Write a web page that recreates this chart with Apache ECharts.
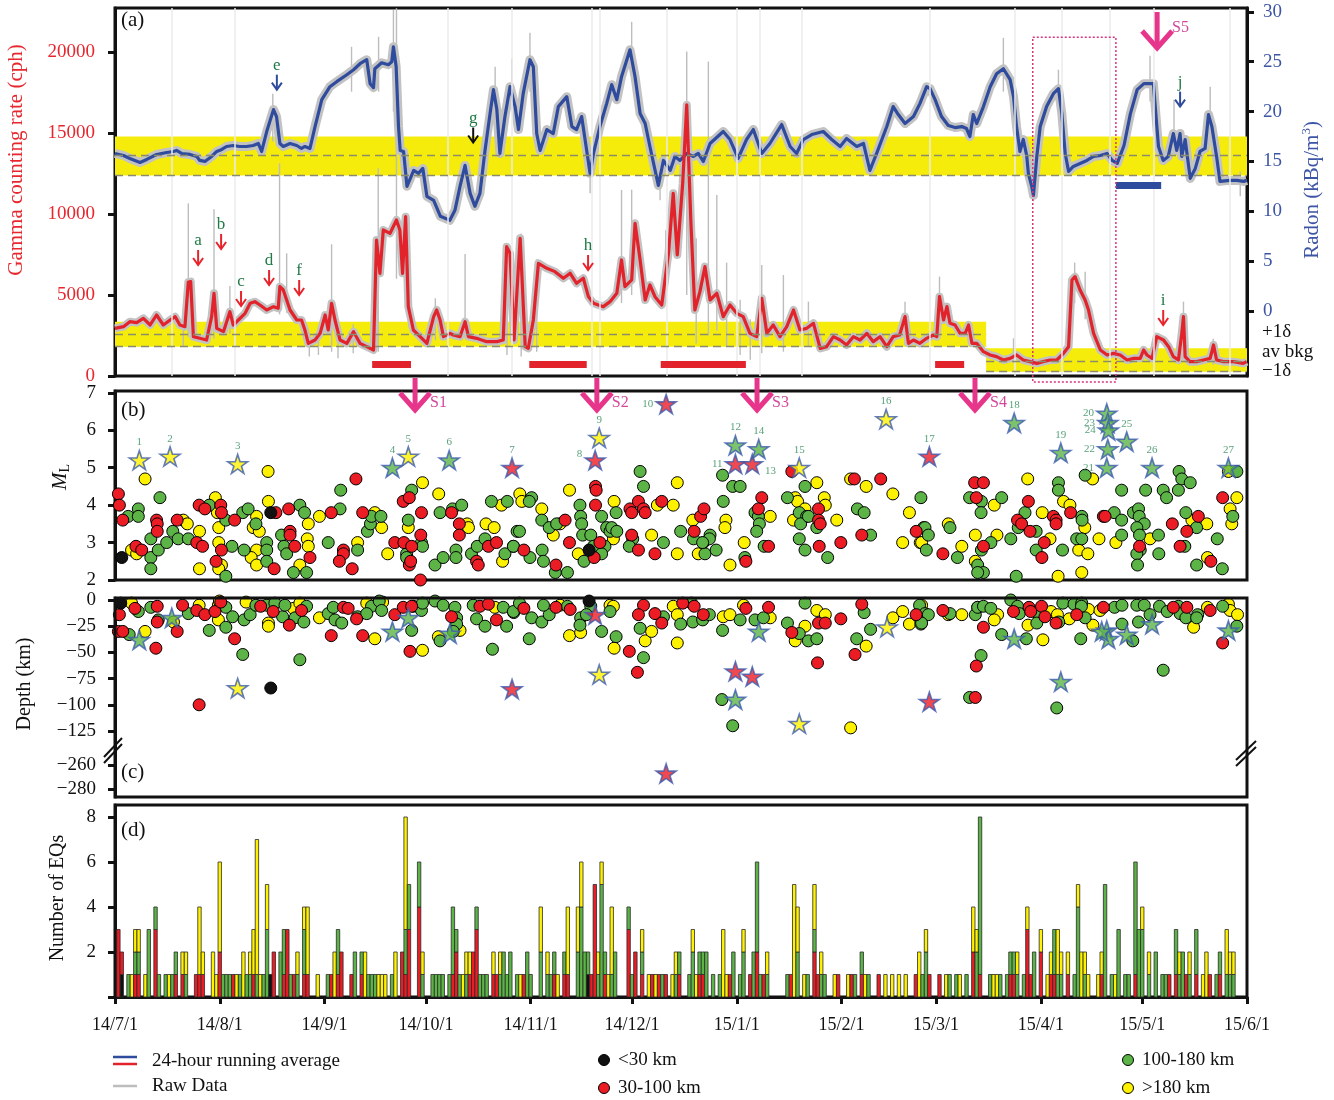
<!DOCTYPE html>
<html><head><meta charset="utf-8">
<script src="https://cdn.jsdelivr.net/npm/echarts@6/dist/echarts.min.js"></script>
<style>html,body{margin:0;padding:0;background:#fff}#c{width:1334px;height:1100px}</style>
</head><body><div id="c"></div>
<script>
// ---------------- DATA ----------------
const tickDays=[0,31,62,92,123,153,184,215,243,274,304,335];
const tickLabels=['14/7/1','14/8/1','14/9/1','14/10/1','14/11/1','14/12/1','15/1/1','15/2/1','15/3/1','15/4/1','15/5/1','15/6/1'];

const radonAvg=[[0,15.8],[2.5,15.6],[4.4,15.3],[7.4,14.9],[9.4,15.2],[12.3,15.7],[15.3,15.9],[17.3,16.0],[18.2,16.1],[19.7,15.8],[22.2,15.7],[24.2,15.5],[25.1,15.1],[26.6,15.0],[28.6,15.5],[30.1,16.0],[31.6,16.2],[33.0,16.5],[35.0,16.6],[36.9,16.5],[38.9,16.5],[40.9,16.6],[42.4,16.8],[43.4,16.0],[44.9,18.0],[46.9,20.2],[47.8,19.5],[48.8,16.8],[49.8,16.5],[51.8,16.8],[53.8,16.6],[55.2,16.3],[56.2,16.5],[57.7,16.3],[59.2,18.5],[61.2,21.2],[63.6,22.5],[65.6,23.0],[68.6,23.7],[70.6,24.2],[72.5,24.8],[74.5,25.2],[75.5,22.8],[76.5,22.4],[76.9,24.3],[78.9,24.9],[80.9,24.7],[81.9,25.0],[82.4,26.5],[83.2,24.5],[83.9,18.5],[84.4,16.1],[85.4,16.0],[86.4,12.5],[88.4,14.1],[89.8,13.8],[91.1,14.3],[92.3,11.5],[94.3,11.1],[96.3,9.5],
[97.7,9.3],[99.1,9.1],[100.6,10.1],[102.1,12.5],[103.6,14.6],[105.1,11.8],[106.5,10.5],[108.0,11.8],[109.5,16.1],[111.0,19.8],[112.0,22.2],[113.0,20.2],[113.9,15.8],[115.4,19.5],[116.9,22.5],[118.4,20.5],[119.4,18.2],[120.8,21.8],[122.8,25.2],[123.8,24.5],[124.8,17.8],[125.8,16.1],[127.8,18.2],[129.7,17.8],[131.2,20.5],[133.7,21.5],[135.2,18.5],[136.6,18.2],[138.1,19.5],[140.6,13.8],[141.6,15.8],[143.5,18.5],[145.5,20.8],[147.0,22.7],[148.5,21.2],[149.9,23.5],[152.4,26.2],[153.9,23.5],[155.4,19.8],[156.9,18.8],[158.3,16.5],[160.8,12.6],[162.3,15.1],[164.3,14.1],[165.7,15.5],[167.2,15.1],[169.2,15.8],[171.2,15.5],[172.6,15.8],[174.1,15.0],[176.1,16.8],[180.0,18.0],[182.0,17.2],[184.4,15.3],[186.9,17.2],[188.9,18.2],[191.4,15.8],[193.8,16.8],[197.3,18.7],[199.8,16.5],[201.7,15.8],[203.7,17.2],[206.2,17.7],[209.6,18.0],[212.1,17.2],[214.6,16.5],[216.5,17.3],[219.5,16.5],[221.5,16.8],[223.4,14.1],[225.4,15.8],[228.4,18.5],
[230.3,20.5],[231.8,19.7],[233.8,18.8],[236.3,19.5],[238.2,20.8],[240.2,22.5],[241.2,22.3],[242.7,21.2],[244.6,19.5],[246.6,18.6],[248.6,18.4],[250.6,18.5],[252.0,18.3],[253.0,17.5],[254.0,19.7],[255.0,18.8],[257.0,20.5],[259.0,22.5],[260.9,23.8],[262.9,24.3],[264.9,23.2],[265.9,21.5],[266.8,18.5],[267.8,16.0],[268.8,17.2],[269.8,15.6],[270.3,13.8],[271.3,12.5],[271.8,11.6],[272.8,15.5],[273.8,18.5],[275.7,20.5],[277.7,21.8],[279.2,22.3],[280.2,19.8],[281.2,15.8],[282.2,14.0],[283.6,14.5],[285.6,14.8],[287.6,15.1],[289.6,15.5],[291.6,15.6],[293.6,15.8],[295.1,15.1],[296.6,14.8],[298.6,16.6],[300.5,19.8],[302.5,22.2],[304.5,22.8],[307.3,22.8],[308.8,16.5],[310.2,15.1],[311.7,15.5],[313.2,17.8],[314.2,16.1],[315.2,17.8],[315.7,15.5],[316.7,17.2],[318.2,13.3],[319.7,14.3],[321.1,16.0],[322.6,16.3],[323.6,19.7],[324.6,18.5],[326.0,15.5],[327.0,13.0],[330.0,13.1],[332.0,13.1],[334.0,13.0],[334.9,13.1]];

const gammaAvg=[[0,2943],[2.5,3046],[4.4,3354],[6.4,3293],[8.4,3560],[10.4,3149],[12.3,3766],[14.3,3149],[16.3,3457],[17.8,3663],[19.2,3149],[20.7,3046],[21.7,5804],[22.4,5824],[23.2,2428],[25.1,2326],[27.1,2222],[28.6,3663],[29.3,5104],[30.1,2943],[32.1,2737],[34.0,3972],[35.0,3149],[36.5,3457],[38.5,3869],[40.0,4487],[41.4,4589],[42.9,4384],[44.9,4075],[46.9,4281],[48.3,4178],[48.8,5515],[49.8,5310],[51.8,4075],[53.8,3457],[55.2,3457],[56.2,2840],[57.2,2017],[59.2,2222],[60.7,2634],[62.2,3766],[63.1,2840],[64.1,4487],[65.1,3457],[66.6,2222],[68.6,2017],[70.6,2737],[72.5,2017],[74.5,1811],[76.5,1605],[77.4,8396],[78.4,6338],[79.4,9014],[81.4,8808],[83.3,9631],[84.3,9014],[85.1,6338],[86.0,9837],[86.8,4281],[88.3,2840],[90.3,2428],[92.3,2017],[94.3,3663],[95.2,4075],[96.2,3457],[97.2,2428],[99.2,2634],
[100.1,2531],[102.1,2428],[103.6,3354],[104.6,2428],[107.0,2326],[110.0,2120],[113.0,2120],[114.9,2222],[115.9,7985],[116.9,7573],[118.1,2222],[119.9,8500],[121.4,1811],[122.3,1708],[123.8,3457],[125.3,6956],[127.8,6647],[130.2,6442],[132.7,6030],[134.7,6339],[136.6,5721],[138.6,6030],[140.1,4898],[141.6,4487],[144.5,4281],[146.5,4589],[148.5,5104],[149.9,7162],[150.9,5515],[152.9,5927],[153.9,9426],[155.4,7162],[156.9,4692],[158.3,5618],[159.8,4898],[161.8,4384],[163.8,7573],[165.2,11278],[166.4,7470],[168.0,11895],[169.2,16732],[170.4,9631],[171.6,4075],[173.1,5207],[174.6,6750],[176.1,4692],[178.1,5104],[180.0,3663],[182.0,4384],[184.0,3869],[185.9,3663],[187.9,2634],[189.9,2428],[191.4,4795],[192.9,2634],[194.8,3149],[196.8,2428],[198.8,3046],[200.8,4075],[202.7,2840],[204.7,2943],[206.7,3252],[208.7,1708],[210.6,1811],[212.6,2428],[214.6,2222],[216.5,1914],[218.5,2428],[220.5,2222],[222.5,2634],[224.4,2120],[226.4,2428],[228.4,1811],
[230.3,2428],[232.2,2531],[233.8,3663],[234.8,2017],[236.3,2222],[238.2,2017],[240.2,2326],[242.2,2531],[243.2,2428],[244.0,4898],[245.2,3457],[246.2,4281],[247.1,3252],[248.6,3149],[250.1,2634],[251.6,2634],[252.6,3149],[253.6,2017],[255.0,2017],[257.0,1502],[259.0,1297],[260.9,1194],[262.9,988],[264.9,1091],[266.8,1297],[268.8,988],[270.8,885],[272.8,782],[274.7,885],[276.7,988],[278.7,988],[280.7,1399],[282.2,1811],[283.2,5927],[284.1,6133],[285.6,5310],[287.1,4692],[288.1,4075],[289.6,2634],[291.6,1605],[293.6,1297],[295.5,1399],[297.5,1297],[299.5,988],[301.5,1091],[303.4,1091],[304.4,1605],[305.4,1297],[306.9,1091],[308.3,2428],[310.3,2222],[311.8,1811],[313.2,1194],[314.7,988],[315.7,2634],[316.2,3663],[316.7,1194],[318.1,885],[320.1,885],[322.1,988],[324.1,1091],[325.1,1914],[326.0,988],[328.0,885],[331.0,885],[333.9,782],[334.9,885]];

// raw-data spikes [day, low, high]
const gammaRawSpikes=[[20.2,1800,3200],[21.7,2400,10660],[29.3,2300,10290],[34.0,2600,5557],[48.7,3800,13130],[50.8,3900,7573],[57.5,1200,2600],[60.2,1300,3000],[64.1,1500,8129],[66.0,1100,2500],[70.5,1400,3200],[77.9,1500,12821],[83.3,6000,22700],[87.0,3000,9800],[94.8,2200,4795],[103.6,2300,7532],[116.0,1300,8200],[120.2,1200,8800],[124.8,1500,7200],[149.9,4500,11483],[152.9,5000,11500],[163.0,4500,9000],[169.2,5000,20024],[172.0,2000,8500],[175.6,2500,19407],[178.1,2800,11175],[181.0,1800,7000],[185.0,1300,4700],[188.0,1000,3500],[191.4,1400,6853],[197.8,1500,6236],[205.2,1800,4589],[233.8,1900,4589],[244.0,2800,6133],[265.9,800,2326],[284.0,4500,7000],[287.1,3500,6442],[316.2,1000,4589],[325,700,2300]];
const radonRawSpikes=[[46.7,17,21.8],[70,22,26.5],[78,22,27.5],[82.4,20,30.2],[112.5,19,24.5],[117.4,20,25.3],[122.8,22,27.9],[140.6,11.8,16],[152.9,23,29.0],[161.3,11.1,14],[262.9,22,27.4],[271.8,11.0,14],[279.2,20,24.2],[306.3,21,25.6],[313.4,16,21.2],[324.1,17,22.5],[333,11.5,14]];
const faintDays=[16.8,35.5,98.6,117.4,141.1,143.5,163.3,184.0,190.9,203.2,241.2,266.4,280.2,294.5,307.3,330];

const radonBand=[13.6,15.6,17.5];          // -1d, av bkg, +1d
const gammaBands=[[0,257.8,1808,2573,3350],[257.8,335,265,925,1709]]; // from,to,-1d,avg,+1d
const gammaMarkBars=[[76.1,87.6],[122.6,139.6],[161.5,186.7],[242.7,251.3]];
const gammaMarkLevel=740;
const radonMarkBars=[[296.2,309.6]];
const radonMarkLevel=12.6;
const boxDays=[271.6,296.2]; const boxTopGamma=20916;

const sNames=['S1','S2','S3','S4','S5'];
const sDays=[88.8,142.6,190.0,254.5,308.4];
// letter, day, value, axis (g=gamma/red, r=radon/blue, k=radon/black)
const letterMarks=[['a',24.6,6852,'g'],['b',31.4,7840,'g'],['c',37.3,4321,'g'],['d',45.6,5617,'g'],['f',54.5,5000,'g'],['e',47.9,22.2,'r'],['g',106.0,16.9,'k'],['h',140.0,6543,'g'],['i',310.2,3148,'g'],['j',315.2,20.5,'r']];

// magnitude panel (b)
const mlBlack=[[2.0,2.6],[46.1,3.8],[140.3,2.8]];
const mlRed=[[1,4.3],[1.3,4.0],[2.3,3.6],[6.2,2.9],[7.9,2.8],[12.3,3.6],[12.5,3.5],[12.5,3.3],[18.4,3.6],[24.2,3.0],[25.9,2.9],[24.9,4.0],[26.6,3.9],[31.3,4.0],[31.5,3.8],[35.4,3.6],[31.5,2.8],[29.9,2.5],[47.1,2.3],[47.6,3.8],[51.8,3.3],[51.8,3.2],[53.2,2.9],[57.7,2.6],[51.4,3.9],[64.0,3.8],[67.6,2.8],[67.6,2.7],[66.4,2.5],[70.2,2.3],[73.3,3.8],[71.3,4.7],[82.8,3.0],[85.5,3.0],[87.8,2.9],[87.1,2.4],[87.5,2.5],[90.5,3.2],[90.7,3.8],[85.3,4.1],[87.1,4.2],[90.4,2.0],[99.6,3.8],[101.9,3.5],[101.9,3.2],[107.0,2.5],[107.5,2.4],[110.5,2.9],[112.9,3.0],
[121.0,2.8],[130.5,2.4],[133.2,3.6],[134.5,3.0],[141.8,2.6],[142.2,4.5],[142.4,4.4],[142.2,4.0],[143.5,3.0],[152.4,3.9],[154.9,4.1],[156.4,3.9],[156.9,3.8],[152.9,3.8],[152.9,3.2],[154.9,2.8],[159.8,2.7],[161.8,4.1],[171.4,3.3],[173.3,3.7],[174.3,3.9],[186.7,2.5],[191.4,4.2],[190.4,3.9],[193.4,2.9],[200.3,4.9],[208.2,3.9],[208.2,3.6],[208.7,3.5],[208.4,2.9],[214.8,3.0],[218.8,4.7],[221.0,3.2],[226.6,4.7],[237.1,3.3],
[245.0,2.7],[257.0,2.9],[254.4,4.6],[257.0,4.6],[254.9,4.2],[267.1,3.6],[268.3,3.5],[270.3,4.1],[270.8,3.3],[275.0,3.0],[274.3,2.6],[277.7,3.7],[278.5,3.6],[278.5,3.5],[282.8,3.8],[292.5,3.7],[293.0,3.7],[303.2,2.9],[312.9,3.5],[317.2,3.3],[320.6,3.7],[315.2,2.9],[324.3,2.5],[327.8,4.2]];
const mlYellow=[[8.9,4.7],[4.9,2.8],[6.4,2.7],[20.2,3.6],[21.4,3.5],[29.7,4.2],[30.3,3.8],[30.7,3.4],[30.7,3.0],[31.5,2.4],[30.7,2.3],[25.0,3.3],[25.0,2.3],[40.9,3.4],[42.7,3.3],[41.9,3.7],[41.9,2.8],[40.3,2.6],[41.9,2.4],[45.3,4.9],[45.4,4.1],[56.9,3.1],[57.2,2.9],[54.7,2.4],[57.2,3.5],[60.5,3.7],[71.8,3.0],[76.9,3.8],[78.9,3.4],[80.7,2.7],[86.8,3.4],[91.0,4.6],[95.8,4.3],[104.2,3.5],[104.6,3.4],[109.8,3.5],[112.2,3.4],[114.7,2.5],[119.8,4.3],[114.4,4.0],
[120.4,4.1],[126.3,3.9],[129.7,3.2],[134.5,4.4],[131.7,3.5],[137.1,2.7],[142.7,2.9],[147.7,4.1],[147.5,3.1],[158.8,3.2],[160.5,4.0],[165.2,4.0],[166.4,2.7],[166.4,4.6],[171.0,3.6],[172.6,2.7],[180.8,3.6],[180.5,3.4],[182.0,2.4],[186.2,3.0],[193.9,3.7],[201.3,4.2],[209.9,4.2],[210.2,4.0],[202.0,4.1],[204.2,3.9],[200.8,3.6],[207.7,4.6],[213.6,3.6],[217.7,4.7],[222.3,4.5],[230.2,4.3],[235.1,3.8],[233.1,3.0],[238.3,3.0],
[246.6,3.5],[238.7,3.0],[250.6,2.9],[254.6,3.2],[261.0,3.2],[260.2,4.0],[254.6,2.5],[270.1,4.7],[276.7,3.1],[274.4,3.8],[279.1,2.1],[280.7,4.1],[282.6,4.0],[287.0,3.4],[285.2,2.8],[287.9,2.7],[286.1,2.2],[289.3,4.7],[291.2,3.1],[296.2,3.0],[306.3,3.1],[318.7,3.6],[323.1,3.5],[323.3,2.6],[332.0,4.2],[330.0,3.9],[330.5,3.5],[329.5,4.9]];
const mlGreen=[[3.9,3.7],[6.9,3.9],[6.9,3.7],[10.6,3.1],[10.6,2.6],[10.6,2.3],[12.8,2.8],[13.3,4.2],[15.3,3.0],[17.1,3.3],[18.7,3.1],[21.7,3.1],[27.9,4.0],[32.8,3.6],[34.6,2.9],[37.8,3.8],[39.4,3.9],[41.7,3.5],[38.2,2.8],[44.9,3.0],[44.9,2.8],[44.9,2.5],[49.3,3.2],[50.0,2.9],[50.8,2.7],[52.8,2.2],[56.7,2.2],[54.7,4.0],[56.1,3.8],[63.1,3.0],[66.6,3.9],[66.8,4.4],[71.8,2.8],[74.7,3.3],[75.6,3.5],[75.9,3.7],[78.7,3.7],[86.3,2.7],[86.8,3.6],[90.7,3.0],[91.0,2.9],[87.8,4.4],[86.3,2.6],[94.7,2.4],[97.1,2.6],[100.9,2.8],[100.9,2.6],[96.2,3.8],[99.9,3.9],[102.6,4.0],[105.5,2.7],[107.2,2.9],[109.5,3.1],[111.4,4.1],[116.1,4.1],[115.4,2.7],[117.9,2.9],[119.0,3.3],[32.8,2.1],
[123.3,4.2],[122.6,4.1],[126.3,3.6],[128.5,3.4],[119.7,3.3],[117.9,2.9],[122.8,2.6],[126.4,2.8],[126.8,2.5],[130.3,2.2],[133.9,2.2],[130.7,3.5],[137.6,4.0],[137.8,3.7],[138.1,3.5],[138.4,3.2],[140.8,3.2],[138.8,2.5],[141.6,2.9],[144.0,3.7],[145.0,2.9],[144.0,2.7],[145.5,3.4],[146.5,3.3],[148.3,3.8],[147.0,3.4],[148.5,3.3],[155.4,4.9],[156.4,4.5],[153.2,3.1],[152.2,2.9],[162.3,3.0],[167.4,3.3],[171.2,3.1],[174.1,3.0],[174.6,2.7],[176.1,3.2],[177.9,2.8],[175.9,3.1],[173.9,3.0],[179.8,4.8],[182.8,4.5],[185.0,4.5],[180.0,4.1],[186.4,2.6],[189.4,3.8],[190.4,3.7],[190.7,3.5],[189.9,3.3],[192.1,2.9],[199.0,4.2],[204.2,4.5],[202.5,3.8],[204.7,3.7],[202.9,3.5],[205.2,3.7],[207.7,3.4],[202.5,3.1],[204.2,2.8],[210.9,2.6],[219.7,3.9],[221.7,3.8],[223.6,3.2],[238.5,4.2],[239.3,3.4],[240.1,2.8],
[247.1,3.4],[239.7,3.4],[240.7,3.2],[249.3,2.6],[256.4,2.8],[259.2,3.0],[265.1,3.1],[255.3,2.4],[257.0,2.2],[255.3,2.2],[266.7,2.1],[252.9,4.2],[256.4,4.1],[256.3,3.8],[262.4,4.2],[269.3,3.8],[267.3,3.4],[272.6,3.3],[272.6,2.8],[280.4,2.8],[279.2,4.6],[279.2,4.4],[286.1,3.7],[286.2,3.6],[284.6,3.1],[286.1,3.1],[287.1,4.8],[297.9,4.4],[295.7,3.8],[297.9,3.6],[297.9,3.2],[301.4,3.8],[302.9,3.9],[303.1,3.7],[304.6,3.5],[302.4,3.4],[303.2,3.2],[308.8,3.2],[303.4,2.8],[302.4,2.7],[302.6,2.4],[308.9,2.7],[305.0,4.4],[310.2,4.4],[311.2,4.2],[314.9,4.9],[315.7,4.7],[318.2,4.6],[314.7,4.4],[316.9,3.8],[320.1,3.4],[316.6,2.9],[320.1,2.4],[327.7,2.3],[326.2,3.1],[330.8,3.7],[332.0,4.9]];
// [day, ML, depth class, number]
const mlStars=[[7.2,5.2,'Y','1'],[16.3,5.3,'Y','2'],[36.3,5.1,'Y','3'],[82.1,5.0,'G','4'],[86.8,5.3,'Y','5'],[98.9,5.2,'G','6'],[117.5,5.0,'R','7'],[142.1,5.2,'R','8'],[143.3,5.8,'Y','9'],[163.1,6.7,'R','10'],[183.6,5.1,'R','11'],[183.6,5.6,'G','12'],[188.6,5.1,'R','13'],[190.5,5.5,'G','14'],[202.5,5.0,'Y','15'],[228.2,6.3,'Y','16'],[241.0,5.3,'R','17'],[266.1,6.2,'G','18'],[279.9,5.4,'G','19'],[293.5,6.45,'G','20'],[293.5,5.0,'G','21'],[293.8,5.5,'G','22'],[293.8,6.2,'G','23'],[294.0,6.0,'G','24'],[299.4,5.7,'G','25'],[306.9,5.0,'G','26'],[329.5,5.0,'G','27']];

// depth panel (c)
const depBlack=[[1.7,-3],[46.1,-84],[140.3,-1]];
const depRed=[[1.3,-14],[1.0,-30],[2.3,-30],[5.9,-8],[12.5,-6],[12.5,-21],[12.1,-46],[18.4,-30],[20.0,-5],[24.2,-10],[26.6,-14],[29.6,-11],[31.3,-2],[35.4,-37],[24.9,-100],[43.1,-6],[46.8,-11],[51.6,-24],[55.2,-10],[64.0,-34],[67.6,-7],[69.0,-8],[71.5,-18],[73.3,-34],[82.8,-14],[85.3,-7],[87.8,-6],[87.3,-49],[99.6,-16],[108.0,-6],[110.5,-4],[112.9,-19],
[121.0,-8],[130.5,-7],[134.7,-9],[152.2,-49],[154.6,-69],[156.4,-5],[154.9,-14],[159.8,-13],[161.8,-22],[168.0,-3],[171.4,-6],[174.1,-14],[186.7,-8],[193.4,-7],[200.3,-31],[208.2,-22],[210.2,-22],[214.8,-18],[207.9,-60],[219.0,-52],[221.0,-4],[237.1,-14],
[245.0,-10],[257.0,-26],[265.9,-11],[270.5,-7],[271.0,-11],[274.2,-6],[275.2,-16],[278.5,-22],[284.6,-14],[292.5,-7],[313.2,-7],[317.2,-7],[324.1,-10],[327.8,-41],[254.9,-63],[254.6,-93]];
const depYellow=[[4.9,-3],[8.9,-30],[17.3,-21],[24.9,-5],[30.6,-5],[30.9,-1],[30.6,-19],[38.8,-2],[45.4,-22],[45.4,-25],[52.8,-8],[54.7,-3],[60.5,-17],[74.5,-3],[76.9,-37],[79.2,-2],[91.0,-48],[102.1,-29],[95.7,-35],[112.4,-7],
[131.7,-5],[134.5,-34],[137.8,-31],[146.5,-5],[147.5,-6],[147.7,-46],[156.9,-39],[158.8,-30],[165.2,-6],[166.4,-14],[166.4,-41],[180.0,-16],[182.0,-14],[186.0,-5],[193.9,-17],[201.3,-39],[204.2,-25],[207.7,-10],[210.2,-14],[217.7,-122],[222.3,-44],[230.2,-17],[233.1,-11],[235.1,-23],
[238.7,-5],[246.6,-14],[250.6,-14],[255.3,-7],[261.2,-14],[260.2,-19],[274.6,-38],[270.2,-24],[277.0,-11],[278.9,-14],[282.4,-18],[288.1,-9],[289.4,-24],[291.5,-10],[319.2,-26],[323.3,-7],[329.5,-4],[330.0,-10],[332.2,-14]];
const depGreen=[[4.2,-33],[6.9,-11],[10.6,-7],[12.8,-19],[21.7,-13],[27.9,-29],[32.8,-7],[32.8,-26],[34.8,-16],[37.8,-52],[38.2,-19],[40.0,-14],[41.7,-5],[44.9,-5],[47.3,-3],[49.6,-16],[50.3,-5],[53.3,-17],[56.7,-6],[55.9,-21],[54.7,-57],[63.1,-13],[64.6,-7],[65.1,-19],[67.1,-22],[71.8,-16],[75.9,-6],[78.2,-1],[78.9,-10],[74.5,-13],[88.3,-6],[87.8,-29],[90.7,-10],[91.0,-3],[94.7,-1],[97.1,-5],[100.6,-7],[101.1,-17],[101.1,-23],[100.1,-30],[96.2,-39],[106.0,-5],[107.0,-18],[109.5,-25],[114.9,-7],[115.9,-25],[118.0,-12],[111.7,-47],
[117.9,-11],[119.7,-3],[123.3,-17],[126.3,-21],[128.5,-14],[126.8,-5],[122.6,-37],[133.9,-6],[137.8,-17],[137.6,-24],[140.8,-6],[139.5,-14],[144.0,-30],[146.5,-11],[148.3,-35],[156.4,-55],[155.4,-27],[162.3,-16],[167.4,-23],[170.6,-3],[171.0,-21],[173.9,-19],[175.9,-14],[179.8,-29],[185.0,-19],[189.4,-19],[191.9,-17],[179.6,-95],[182.8,-120],[199.0,-22],[202.5,-32],[204.2,-3],[205.2,-39],[207.7,-37],[219.5,-37],[221.7,-12],[223.6,-28],[238.5,-23],[238.1,-5],[240.1,-14],
[239.7,-13],[240.7,-14],[238.7,-22],[247.1,-13],[254.6,-14],[255.3,-7],[257.0,-6],[259.2,-8],[262.4,-33],[269.7,-37],[265.1,0],[267.1,-6],[267.6,-13],[272.8,-12],[272.8,-22],[279.3,-21],[280.5,-3],[283.8,-4],[286.1,-3],[286.0,-6],[287.1,-17],[285.8,-37],[295.8,-7],[298.0,-5],[298.0,-23],[301.2,-39],[302.4,-5],[304.6,-5],[306.3,-14],[302.9,-21],[309.1,-6],[311.4,-11],[314.7,-6],[315.2,-13],[316.9,-17],[320.4,-14],[320.1,-17],[327.8,-6],[332.0,-25],[256.3,-53],[252.9,-93],[278.7,-103],[310.2,-67]];
const depStars=[[7.2,-38,'G'],[16.8,-17,'G'],[36.3,-84,'Y'],[82.1,-30,'G'],[86.8,-17,'G'],[99.1,-32,'G'],[117.5,-85,'R'],[142.1,-14,'R'],[143.3,-71,'Y'],[163.1,-267,'R'],[183.6,-68,'R'],[188.6,-73,'R'],[190.5,-30,'G'],[183.6,-95,'G'],[202.5,-118,'Y'],[228.5,-26,'Y'],[241.0,-97,'R'],[266.1,-37,'G'],[279.9,-78,'G'],[293.5,-29,'G'],[294.0,-37,'G'],[292.0,-30,'G'],[299.4,-33,'G'],[306.9,-23,'G'],[329.5,-29,'G']];

// daily counts panel (d) [day, n]
const cntBlack=[[2,1],[46,1],[140,1]];
const cntRed=[[1,3],[2,1],[6,1],[7,1],[12,3],[18,1],[20,1],[24,1],[25,1],[26,1],[31,2],[35,1],[41,1],[47,2],[50,1],[51,3],[53,1],[56,1],[57,1],[64,1],[66,1],[67,2],[70,1],[73,1],[85,2],[86,1],[87,3],[90,4],[100,1],[101,2],[105,1],[106,2],[107,3],[112,1],[113,1],[121,1],[130,1],[133,1],[134,1],[141,1],[142,5],[145,1],[152,3],[154,2],[156,1],[159,1],[161,1],[163,1],[167,1],[173,1],[174,1],[182,1],[188,1],[190,2],[192,1],[200,1],[207,2],[208,1],[214,1],[218,1],[221,1],[226,1],[237,1],[241,1],[244,1],[254,2],[256,1],[265,1],[266,1],[270,3],[271,1],[274,2],[277,1],[278,1],[282,1],[292,1],[302,1],[312,1],[314,1],[317,1],[320,1],[324,1],[327,1]];
const cntGreen=[[4,1],[6,1],[7,1],[10,3],[12,1],[13,1],[15,1],[17,1],[18,1],[21,1],[32,1],[33,1],[34,1],[37,1],[39,1],[40,1],[42,1],[44,1],[45,3],[49,2],[50,2],[52,1],[54,1],[56,2],[63,1],[66,2],[71,2],[73,1],[75,1],[76,1],[77,1],[82,1],[86,2],[87,2],[90,2],[91,1],[94,1],[95,1],[96,1],[97,1],[99,1],[100,3],[101,1],[102,1],[104,1],[107,1],[108,1],[109,1],[110,1],[114,1],[115,2],[116,1],[117,2],[119,1],[122,2],[123,1],[126,2],[128,1],[129,1],[130,1],[133,1],[137,2],[138,4],[139,2],[140,1],[143,1],[144,5],[145,1],[147,1],[148,2],[152,1],[153,1],[156,1],[162,1],[166,1],[167,1],[170,1],[171,2],[173,1],[174,1],[175,2],[177,1],[179,1],[183,2],[185,1],[186,2],[189,2],[190,4],[191,1],[193,1],[199,1],[202,2],[205,1],[207,1],[209,1],[210,1],[219,1],[221,1],[223,1],[239,1],[240,2],[247,1],[249,1],[252,1],[255,2],[256,7],[259,1],[262,1],[264,1],[265,1],[266,1],[267,1],[269,1],[272,2],[278,2],[279,1],[280,1],[284,1],[285,4],[287,1],[293,5],[295,1],[297,3],[299,1],[300,1],[302,5],[303,3],[304,3],[306,1],[308,2],[310,1],[311,1],[314,2],[315,1],[316,2],[318,1],[320,2],[326,1],[327,1],[329,1],[330,1],[331,1]];
const cntYellow=[[5,1],[6,1],[7,1],[9,1],[16,1],[20,1],[21,1],[25,3],[26,1],[29,2],[30,1],[31,4],[36,1],[38,2],[40,1],[41,2],[42,6],[43,1],[45,2],[54,1],[56,1],[57,3],[60,1],[65,2],[74,2],[78,1],[79,1],[80,1],[83,2],[86,5],[91,1],[103,1],[104,1],[105,1],[112,1],[114,1],[120,1],[126,2],[128,1],[131,1],[134,3],[137,2],[138,2],[143,1],[144,1],[146,1],[147,3],[156,1],[158,1],[160,1],[165,1],[166,1],[171,1],[172,1],[180,3],[181,1],[186,1],[193,1],[201,5],[202,2],[204,1],[207,2],[209,1],[213,1],[217,1],[222,1],[228,1],[230,1],[232,1],[234,1],[238,2],[240,1],[246,1],[250,1],[254,2],[255,1],[260,1],[261,1],[267,1],[270,1],[274,1],[276,1],[277,1],[279,2],[280,1],[282,1],[285,1],[286,2],[287,1],[288,1],[291,1],[292,1],[296,1],[304,1],[306,1],[315,1],[318,1],[322,1],[323,2],[329,2],[330,1],[331,1]];

// ---------------- STYLE ----------------
const FONT='"Liberation Serif","DejaVu Serif",serif';
const COL={K:'#111111',R:'#ec1c24',G:'#5cb447',Y:'#fff200'};
const LINE_RED='#e3232b', LINE_BLUE='#2f4b9d', RAW='#c2c2c2', BAND='#f5ec0b', PINK='#e6358b';
const AX_RED='#e8262d', AX_BLUE='#3c55a5', NUMG='#2e8a58', LETG='#1f7a44';
const DAYMAX=335;
const STAR='path://M50,2 L61.8,38.2 L99.8,38.2 L69,60.6 L80.8,96.8 L50,74.4 L19.2,96.8 L31,60.6 L0.2,38.2 L38.2,38.2 Z';

const byX=a=>a.slice().sort((p,q)=>p[0]-q[0]);
// rows [day, black, red, green, yellow] built from the four count lists
const countRows=(()=>{const m={};[cntBlack,cntRed,cntGreen,cntYellow].forEach((arr,k)=>arr.forEach(([d,n])=>{(m[d]=m[d]||[d,0,0,0,0])[k+1]+=n;}));
  return Object.keys(m).map(Number).sort((a,b)=>a-b).map(d=>m[d]);})();
const stackCols=[COL.K,COL.R,COL.G,COL.Y];

const L=115,W=1132;
const grids=[
 {left:L,top:8,width:W,height:368},
 {left:L,top:391,width:W,height:189},
 {left:L,top:598,width:W,height:147},
 {left:L,top:745,width:W,height:52},
 {left:L,top:805,width:W,height:192}
];
const frame={show:true,borderColor:'#111',borderWidth:3};

function xAx(i,show){
  const a={gridIndex:i,type:'value',min:0,max:DAYMAX,show:!!show,splitLine:{show:false}};
  if(show){
    a.axisLine={show:true,onZero:false,lineStyle:{color:'#111',width:3}};
    a.axisTick={show:true,customValues:tickDays,length:7,lineStyle:{color:'#111',width:3}};
    a.axisLabel={customValues:tickDays,formatter:v=>tickLabels[tickDays.indexOf(Math.round(v))]||'',fontFamily:FONT,fontSize:18,color:'#111',margin:19};
  }
  return a;
}
function yAx(i,o){
  return Object.assign({gridIndex:i,type:'value',position:'left',splitLine:{show:false},
    axisLine:{show:true,onZero:false,lineStyle:{color:'#111',width:3}},
    axisTick:{show:true,customValues:o.ticks,length:7,lineStyle:{color:'#111',width:3}},
    axisLabel:{customValues:o.labels||o.ticks,fontFamily:FONT,fontSize:19,color:o.color||'#111',margin:o.margin||19,
      formatter:v=>v<0?'\u2212'+Math.abs(v):String(v)}},o.extra);
}

function scat(name,data,color,xi,yi,size){
  return {type:'scatter',name,xAxisIndex:xi,yAxisIndex:yi,data,symbol:'circle',symbolSize:size||12,clip:false,silent:true,z:5,
    itemStyle:{color,borderColor:'#000',borderWidth:1,opacity:1}};
}
const leftLbl={'8':'left','10':'left','11':'left','20':'left','21':'left','22':'left','23':'left','24':'left','13':'right'};
const mlStarData=mlStars.map(s=>({value:[s[0],s[1]],itemStyle:{color:COL[s[2]]},
  label:{show:true,formatter:s[3],position:leftLbl[s[3]]||'top',distance:2,offset:s[3]==='13'?[0,7]:(s[3]==='8'?[0,-6]:[0,0]),color:NUMG,fontSize:11,fontFamily:FONT}}));
const depStarShallow=depStars.filter(s=>s[1]>-200).map(s=>({value:[s[0],s[1]],itemStyle:{color:COL[s[2]]}}));
const depStarDeep=depStars.filter(s=>s[1]<=-200).map(s=>({value:[s[0],s[1]],itemStyle:{color:COL[s[2]]}}));
const starSeries=(data,xi,yi)=>({type:'scatter',xAxisIndex:xi,yAxisIndex:yi,data,symbol:STAR,symbolSize:[20,19],clip:false,silent:true,z:7,
  itemStyle:{borderColor:'#3d5cb0',borderWidth:1.6}});

function spikeSeries(data,yi){
  return {type:'custom',xAxisIndex:0,yAxisIndex:yi,data,silent:true,z:2,clip:true,
    renderItem:(p,api)=>{const a=api.coord([api.value(0),api.value(1)]);const b=api.coord([api.value(0),api.value(2)]);
      return {type:'line',shape:{x1:a[0],y1:a[1],x2:b[0],y2:b[1]},style:{stroke:'#bdbdbd',lineWidth:1.4}};}};
}
const dash={type:[8,5],color:'#8b8b6e',width:1.4};
const seg=(x1,x2,y,ls)=>[{coord:[x1,y],lineStyle:ls},{coord:[x2,y]}];

const option={
  animation:false,backgroundColor:'#fff',
  grid:grids.map((g,i)=>Object.assign({},g,{outerBoundsMode:'none',containLabel:false},(i===0||i===1||i===4)?frame:{show:false})),
  xAxis:[xAx(0),xAx(1),xAx(2),xAx(3),xAx(4,true)],
  yAxis:[
    yAx(0,{ticks:[0,5000,10000,15000,20000],color:AX_RED,margin:20,extra:{min:0,max:22716}}),
    yAx(0,{ticks:[0,5,10,15,20,25,30],color:AX_BLUE,margin:16,extra:{position:'right',min:-6.52,max:30.39}}),
    yAx(1,{ticks:[2,3,4,5,6,7],extra:{min:2,max:7.05}}),
    yAx(2,{ticks:[0,-25,-50,-75,-100,-125],extra:{min:-138.36,max:1.9}}),
    yAx(3,{ticks:[-260,-280],extra:{min:-286.7,max:-243.3}}),
    yAx(4,{ticks:[0,2,4,6,8],labels:[2,4,6,8],extra:{min:0,max:8.533}})
  ],
  series:[
    {type:'line',xAxisIndex:0,yAxisIndex:1,data:[],silent:true,z:0,
      markLine:{silent:true,symbol:['none','none'],label:{show:false},lineStyle:{type:'solid',color:'#ebebeb',width:1.5},
        data:faintDays.map(d=>({xAxis:d}))}},
    {type:'line',xAxisIndex:0,yAxisIndex:1,data:byX(radonAvg),showSymbol:false,lineStyle:{opacity:0},silent:true,z:1,
      markArea:{silent:true,itemStyle:{color:BAND,opacity:1},data:[[{coord:[0,radonBand[0]]},{coord:[DAYMAX,radonBand[2]]}]]},
      markLine:{silent:true,symbol:['none','none'],label:{show:false},lineStyle:dash,
        data:[seg(0,DAYMAX,radonBand[1],dash),seg(0,DAYMAX,radonBand[0],dash),
              ...radonMarkBars.map(b=>seg(b[0],b[1],radonMarkLevel,{type:'solid',color:LINE_BLUE,width:7,cap:'butt'}))]}},
    {type:'line',xAxisIndex:0,yAxisIndex:0,data:byX(gammaAvg),showSymbol:false,lineStyle:{opacity:0},silent:true,z:1,
      markArea:{silent:true,itemStyle:{color:BAND,opacity:1},data:gammaBands.map(b=>[{coord:[b[0],b[2]]},{coord:[b[1],b[4]]}])},
      markLine:{silent:true,symbol:['none','none'],label:{show:false},lineStyle:dash,
        data:[...gammaBands.map(b=>seg(b[0],b[1],b[3],dash)),...gammaBands.map(b=>seg(b[0],b[1],b[2],dash)),
              ...gammaMarkBars.map(b=>seg(b[0],b[1],gammaMarkLevel,{type:'solid',color:LINE_RED,width:7,cap:'butt'}))]}},
    spikeSeries(radonRawSpikes,1),
    spikeSeries(gammaRawSpikes,0),
    {type:'line',name:'Raw Data',xAxisIndex:0,yAxisIndex:1,data:byX(radonAvg),showSymbol:false,silent:true,z:2,lineStyle:{color:RAW,width:9,join:'round'}},
    {type:'line',name:'Raw Data',xAxisIndex:0,yAxisIndex:0,data:byX(gammaAvg),showSymbol:false,silent:true,z:2,lineStyle:{color:RAW,width:8,join:'round'}},
    {type:'line',name:'Radon',xAxisIndex:0,yAxisIndex:1,data:byX(radonAvg),showSymbol:false,silent:true,z:3,lineStyle:{color:LINE_BLUE,width:3.2,join:'round'}},
    {type:'line',name:'Gamma',xAxisIndex:0,yAxisIndex:0,data:byX(gammaAvg),showSymbol:false,silent:true,z:3,lineStyle:{color:LINE_RED,width:3.2,join:'round'}},
    scat('>180 km',mlYellow,COL.Y,1,2),
    scat('100-180 km',mlGreen,COL.G,1,2),
    scat('30-100 km',mlRed,COL.R,1,2),
    scat('<30 km',mlBlack,COL.K,1,2),
    starSeries(mlStarData,1,2),
    scat('>180 km',depYellow,COL.Y,2,3),
    scat('100-180 km',depGreen,COL.G,2,3),
    scat('30-100 km',depRed,COL.R,2,3),
    scat('<30 km',depBlack,COL.K,2,3),
    starSeries(depStarShallow,2,3),
    starSeries(depStarDeep,3,4),
    // (d) stacked daily counts
    {type:'custom',name:'EQ count',xAxisIndex:4,yAxisIndex:5,data:countRows,silent:true,z:4,clip:false,
      encode:{x:0,y:[1,2,3,4]},
      renderItem:(p,api)=>{
        const d=api.value(0);let base=0;const ch=[];
        for(let k=1;k<=4;k++){const n=api.value(k);if(n>0){
          const a=api.coord([d,base]);const b=api.coord([d,base+n]);
          ch.push({type:'rect',shape:{x:a[0]-1.7,y:b[1],width:3.4,height:a[1]-b[1]},style:{fill:stackCols[k-1],stroke:'#2a2a2a',lineWidth:0.8}});
          base+=n;}}
        return {type:'group',children:ch};}}
  ]
};

const chart=echarts.init(document.getElementById('c'),null,{renderer:'canvas'});
chart.setOption(option);

// ---------------- ANNOTATIONS ----------------
const gx=d=>chart.convertToPixel({xAxisIndex:0},d);
const gy=v=>chart.convertToPixel({yAxisIndex:0},v);
const ry=v=>chart.convertToPixel({yAxisIndex:1},v);
const G=[];
const txt=(x,y,t,o)=>G.push(Object.assign({type:'text',x,y,silent:true,z:20,style:Object.assign({text:t,font:(o&&o.font)||('19px '+FONT),fill:(o&&o.fill)||'#111',textAlign:(o&&o.align)||'left',textVerticalAlign:'middle'},o&&o.style)},o&&o.el));
const line=(pts,color,w,o)=>G.push(Object.assign({type:'polyline',silent:true,z:20,shape:{points:pts},style:{stroke:color,lineWidth:w,fill:null,lineCap:'butt',lineJoin:'miter'}},o));

txt(121,20,'(a)',{font:'21px '+FONT});
txt(121,410,'(b)',{font:'21px '+FONT});
txt(121,772,'(c)',{font:'21px '+FONT});
txt(121,830,'(d)',{font:'21px '+FONT});
G.push({type:'text',x:16,y:160,rotation:Math.PI/2,silent:true,z:20,style:{text:'Gamma counting rate (cph)',font:'21px '+FONT,fill:AX_RED,textAlign:'center',textVerticalAlign:'middle'}});
G.push({type:'text',x:1312,y:190,rotation:Math.PI/2,silent:true,z:20,style:{text:'{a|Radon (kBq/m}{s|3}{a|)}',fill:AX_BLUE,textAlign:'center',textVerticalAlign:'middle',
  rich:{a:{font:'21px '+FONT,fill:AX_BLUE,lineHeight:24},s:{font:'13px '+FONT,fill:AX_BLUE,verticalAlign:'top',lineHeight:24}}}});
G.push({type:'text',x:60,y:477,rotation:Math.PI/2,silent:true,z:20,style:{text:'{m|M}{s|L}',textAlign:'center',textVerticalAlign:'middle',
  rich:{m:{font:'italic 21px '+FONT,fill:'#111',lineHeight:24},s:{font:'14px '+FONT,fill:'#111',verticalAlign:'bottom',lineHeight:18}}}});
G.push({type:'text',x:25,y:684,rotation:Math.PI/2,silent:true,z:20,style:{text:'Depth (km)',font:'20px '+FONT,fill:'#111',textAlign:'center',textVerticalAlign:'middle'}});
G.push({type:'text',x:58,y:898,rotation:Math.PI/2,silent:true,z:20,style:{text:'Number of EQs',font:'20px '+FONT,fill:'#111',textAlign:'center',textVerticalAlign:'middle'}});
txt(1262,332,'+1\u03b4');
txt(1262,352,'av bkg');
txt(1262,371,'\u22121\u03b4');
G.push({type:'rect',silent:true,z:20,shape:{x:L,y:598,width:W,height:199},style:{fill:null,stroke:'#111',lineWidth:3}});
line([[104,757],[122,738]],'#111',2);line([[104,763],[122,744]],'#111',2);
line([[1236,760],[1256,741]],'#111',2);line([[1236,766],[1256,747]],'#111',2);
{const x1=gx(boxDays[0]),x2=gx(boxDays[1]),y1=gy(boxTopGamma),y2=gy(0)+6;
 G.push({type:'rect',silent:true,z:19,shape:{x:x1,y:y1,width:x2-x1,height:y2-y1},style:{fill:null,stroke:'#d9337f',lineWidth:1.5,lineDash:[2,2]}});}
sDays.forEach((d,i)=>{
  const cx=gx(d); const top=i<4?378:12, tip=i<4?410:48;
  line([[cx,top],[cx,tip-3]],PINK,5);
  line([[cx-15,tip-17],[cx,tip],[cx+15,tip-17]],PINK,5);
  txt(cx+15,i<4?403:28,sNames[i],{font:'16px '+FONT,fill:'#d2489c'});
});
letterMarks.forEach(m=>{
  const cx=gx(m[1]); const tip=m[3]==='g'?gy(m[2]):ry(m[2]);
  const col=m[3]==='g'?'#e8232b':(m[3]==='r'?'#2f4b9d':'#111');
  line([[cx,tip-15],[cx,tip-1]],col,2);
  line([[cx-5,tip-7],[cx,tip],[cx+5,tip-7]],col,2);
  txt(cx,tip-24,m[0],{font:'17px '+FONT,fill:LETG,align:'center'});
});
line([[113,1057],[137,1057]],LINE_BLUE,2.5);
line([[113,1064],[137,1064]],LINE_RED,2.5);
line([[113,1086],[137,1086]],'#bdbdbd',2.5);
txt(152,1061,'24-hour running average');
txt(152,1086,'Raw Data');
[[604,1060,COL.K,'<30 km'],[604,1088,COL.R,'30-100 km'],[1128,1060,COL.G,'100-180 km'],[1128,1088,COL.Y,'>180 km']].forEach(l=>{
  G.push({type:'circle',silent:true,z:20,shape:{cx:l[0],cy:l[1],r:5.5},style:{fill:l[2],stroke:'#000',lineWidth:1}});
  txt(l[0]+14,l[1],l[3]);
});
chart.setOption({graphic:G});
</script></body></html>
